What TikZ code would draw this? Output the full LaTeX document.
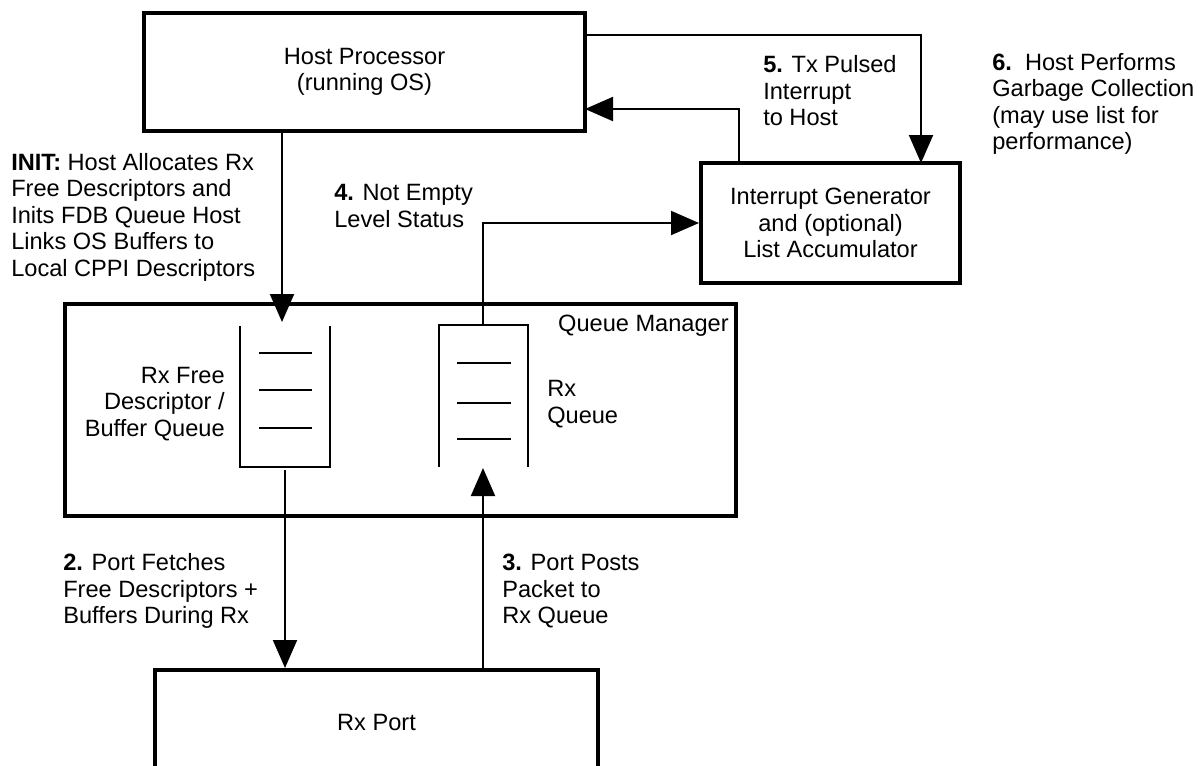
\documentclass[tikz,border=0pt]{standalone}
\usepackage{fontspec}
\setmainfont{Liberation Sans}
\usetikzlibrary{arrows.meta}
\tikzset{
  box/.style={draw, line width=3pt, inner sep=0pt, align=center},
  conn/.style={line width=1.5pt},
  arr/.style={conn, -{Triangle[length=21pt,width=18pt]}},
  lbl/.style={align=left, inner sep=0pt, anchor=west},
  qline/.style={line width=1.5pt},
}
\begin{document}
\begin{tikzpicture}[x=0.75pt,y=-0.75pt,font=\fontsize{17.7pt}{19.9pt}\selectfont]
\path[use as bounding box] (0,0) rectangle (1203,765);
\clip (0,0) rectangle (1203,765);

% main boxes
\node[box, minimum width={441*0.75pt}, minimum height={118*0.75pt}] (host) at (364.5,72) {Host Processor\\(running OS)};
\node[box, minimum width={259*0.75pt}, minimum height={120*0.75pt}] (ig) at (830.5,223) {Interrupt Generator\\and (optional)\\List Accumulator};
\node[box, minimum width={671*0.75pt}, minimum height={212*0.75pt}] (qm) at (400.5,410) {};
\node[inner sep=0pt, anchor=east] (qmlbl) at (729,326) {Queue Manager};
\node[box, minimum width={443*0.75pt}, minimum height={104*0.75pt}] (rx) at (376.5,722) {Rx Port};

% queues
\draw[qline] (240,326) -- (240,467) -- (330,467) -- (330,326);
\foreach \y in {353,390,428} \draw[qline] (259,\y) -- (312,\y);
\draw[qline] (439,467) -- (439,325) -- (528,325) -- (528,467);
\foreach \y in {363,403,439} \draw[qline] (457,\y) -- (511,\y);
\node[inner sep=0pt, anchor=east, align=right] (lqlbl) at (225,404) {Rx Free\\Descriptor /\\Buffer Queue};
\node[lbl] (rqlbl) at (547,404) {Rx\\Queue};

% coordinates for connectors
\coordinate (lqin) at (282,322);
\coordinate (lqout) at (285,470);
\coordinate (rqtop) at (483,325);
\coordinate (rqin) at (483,468);
\coordinate (hostout) at (585,35);
\coordinate (igin) at (921,163);
\coordinate (igup) at (739,163);
\coordinate (hostin) at (585,109);

% connectors
\draw[arr] (host.south -| lqin) -- (lqin);
\draw[arr] (lqout) -- (rx.north -| lqout);
\draw[arr] (rx.north -| rqin) -- (rqin);
\draw[arr] (rqtop) |- (ig.west);
\draw[arr] (hostout) -| (igin);
\draw[arr] (igup) |- (hostin);

% labels
\node[lbl] (init) at (11,217) {\textbf{INIT:} Host Allocates Rx\\Free Descriptors and\\Inits FDB Queue Host\\Links OS Buffers to\\Local CPPI Descriptors};
\node[lbl] (s4) at (334,206) {\textbf{4.} Not Empty\\Level Status};
\node[lbl] (s5) at (763,91) {\textbf{5.} Tx Pulsed\\Interrupt\\to Host};
\node[lbl] (s6) at (992,104) {\textbf{6.}\ \ Host Performs\\Garbage Collection\\(may use list for\\performance)};
\node[lbl] (s2) at (63,591) {\textbf{2.} Port Fetches\\Free Descriptors +\\Buffers During Rx};
\node[lbl] (s3) at (502,591) {\textbf{3.} Port Posts\\Packet to\\Rx Queue};
\end{tikzpicture}
\end{document}
